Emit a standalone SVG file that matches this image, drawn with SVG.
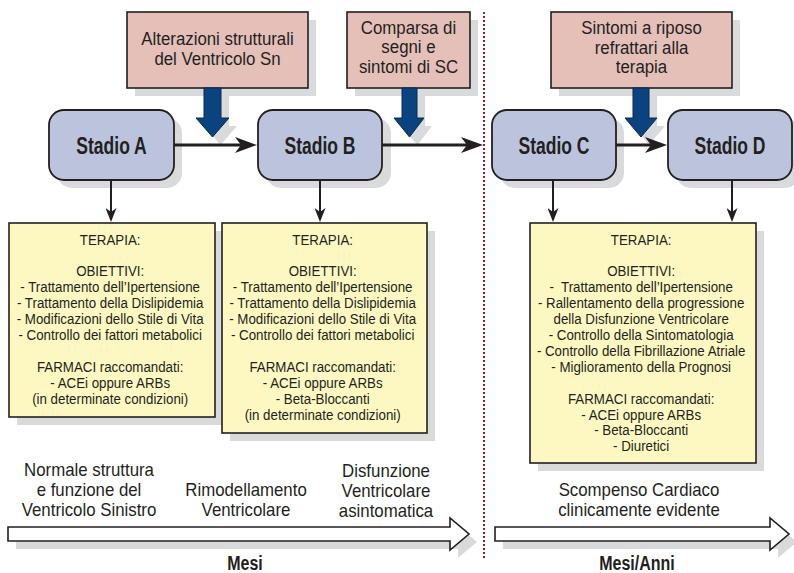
<svg xmlns="http://www.w3.org/2000/svg" width="794" height="573" viewBox="0 0 794 573">
<defs>
<style>
.sh{fill:#d9dadc;stroke:none}
.pink{fill:#e4c0b9;stroke:#231f20;stroke-width:1.6}
.stage{fill:#bcc4dd;stroke:#231f20;stroke-width:1.8}
.yel{fill:#fdf8c2;stroke:#231f20;stroke-width:1.6}
.blue{fill:#0b4280;stroke:#0a2a50;stroke-width:1}
.wa{fill:#ffffff;stroke:#231f20;stroke-width:1.6}
text{font-family:"Liberation Sans",Arial,sans-serif;fill:#231f20;text-anchor:middle}
.pt{font-size:18.5px}
.st{font-size:24px;font-weight:bold}
.bt{font-size:14.8px;white-space:pre}
.lt{font-size:18px}
.mt{font-size:20px;font-weight:bold}
.conn{stroke:#231f20;fill:none}
</style>
<marker id="ah" markerUnits="userSpaceOnUse" markerWidth="22" markerHeight="16" refX="6" refY="8" orient="auto">
<path d="M0,0 L22,8 L0,16 L6,8 z" fill="#231f20"/>
</marker>
<marker id="av" markerUnits="userSpaceOnUse" markerWidth="14" markerHeight="11" refX="4" refY="5.5" orient="auto">
<path d="M0,0 L14,5.5 L0,11 L4,5.5 z" fill="#231f20"/>
</marker>
</defs>
<rect width="794" height="573" fill="#ffffff"/>

<!-- divider -->
<line x1="484" y1="12" x2="484" y2="558" stroke="#9b1b30" stroke-width="2" stroke-dasharray="2,2"/>

<!-- event boxes -->
<g id="evento1">
<rect class="sh" x="135" y="20" width="181" height="76"/>
<rect class="pink" x="127" y="12" width="181" height="76"/>
<text class="pt" transform="translate(217.5,0) scale(0.91,1)"><tspan x="0" y="45">Alterazioni strutturali</tspan><tspan x="0" y="65">del Ventricolo Sn</tspan></text>
<polygon class="sh" points="212,96 229,96 229,126 237,126 220.5,145 204,126 212,126"/>
<polygon class="blue" points="204,88 221,88 221,118 229,118 212.5,137 196,118 204,118"/>
</g>
<g id="evento2">
<rect class="sh" x="355" y="20" width="123" height="76"/>
<rect class="pink" x="347" y="12" width="123" height="76"/>
<text class="pt" transform="translate(408.5,0) scale(0.91,1)"><tspan x="0" y="34">Comparsa di</tspan><tspan x="0" y="53.5">segni e</tspan><tspan x="0" y="73">sintomi di SC</tspan></text>
<polygon class="sh" points="410,96 425,96 425,126 432,126 417.5,145 401,126 410,126"/>
<polygon class="blue" points="402,88 417,88 417,118 424,118 409.5,137 394,118 402,118"/>
</g>
<g id="evento3">
<rect class="sh" x="559" y="20" width="181" height="76"/>
<rect class="pink" x="551" y="12" width="181" height="76"/>
<text class="pt" transform="translate(641.5,0) scale(0.91,1)"><tspan x="0" y="34.5">Sintomi a riposo</tspan><tspan x="0" y="54">refrattari alla</tspan><tspan x="0" y="73.5">terapia</tspan></text>
<polygon class="sh" points="641,96 657,96 657,126 665,126 649,145 633,126 641,126"/>
<polygon class="blue" points="633,88 649,88 649,118 657,118 641,137 625,118 633,118"/>
</g>

<!-- stages -->
<g id="stadioA">
<rect class="sh" x="57" y="118" width="125" height="70" rx="15"/>
<rect class="stage" x="49" y="110" width="125" height="70" rx="15"/>
<text class="st" transform="translate(111.5,154) scale(0.73,1)" x="0" y="0">Stadio A</text>
</g>
<g id="stadioB">
<rect class="sh" x="266" y="118" width="125" height="70" rx="15"/>
<rect class="stage" x="258" y="110" width="124" height="70" rx="15"/>
<text class="st" transform="translate(320,154) scale(0.73,1)" x="0" y="0">Stadio B</text>
</g>
<g id="stadioC">
<rect class="sh" x="500" y="118" width="124" height="70" rx="15"/>
<rect class="stage" x="492" y="110" width="124" height="70" rx="15"/>
<text class="st" transform="translate(554,154) scale(0.73,1)" x="0" y="0">Stadio C</text>
</g>
<g id="stadioD">
<rect class="sh" x="676" y="118" width="124" height="70" rx="15"/>
<rect class="stage" x="668" y="110" width="124" height="70" rx="15"/>
<text class="st" transform="translate(730,154) scale(0.73,1)" x="0" y="0">Stadio D</text>
</g>

<!-- therapy boxes -->
<g id="terapiaA">
<rect class="sh" x="17" y="231" width="206" height="194"/>
<rect class="yel" x="9" y="223" width="206" height="194"/>
<text class="bt" transform="translate(112,0) scale(0.9,1)">
<tspan x="0" y="245">TERAPIA:</tspan>
<tspan x="0" y="276">OBIETTIVI:</tspan>
<tspan x="0" y="292">- Trattamento dell’Ipertensione</tspan>
<tspan x="0" y="308">- Trattamento della Dislipidemia</tspan>
<tspan x="0" y="324">- Modificazioni dello Stile di Vita</tspan>
<tspan x="0" y="340">- Controllo dei fattori metabolici</tspan>
<tspan x="0" y="372.5">FARMACI raccomandati:</tspan>
<tspan x="0" y="388">- ACEi oppure ARBs</tspan>
<tspan x="0" y="404">(in determinate condizioni)</tspan>
</text>
</g>
<g id="terapiaB">
<rect class="sh" x="230" y="231" width="205" height="210"/>
<rect class="yel" x="222" y="223" width="205" height="210"/>
<text class="bt" transform="translate(324.5,0) scale(0.9,1)">
<tspan x="0" y="245">TERAPIA:</tspan>
<tspan x="0" y="276">OBIETTIVI:</tspan>
<tspan x="0" y="292">- Trattamento dell’Ipertensione</tspan>
<tspan x="0" y="308">- Trattamento della Dislipidemia</tspan>
<tspan x="0" y="324">- Modificazioni dello Stile di Vita</tspan>
<tspan x="0" y="340">- Controllo dei fattori metabolici</tspan>
<tspan x="0" y="372.5">FARMACI raccomandati:</tspan>
<tspan x="0" y="388">- ACEi oppure ARBs</tspan>
<tspan x="0" y="404">- Beta-Bloccanti</tspan>
<tspan x="0" y="420">(in determinate condizioni)</tspan>
</text>
</g>
<g id="terapiaCD">
<rect class="sh" x="538" y="231" width="226" height="240"/>
<rect class="yel" x="530" y="223" width="226" height="240"/>
<text class="bt" transform="translate(643,0) scale(0.9,1)">
<tspan x="0" y="245">TERAPIA:</tspan>
<tspan x="0" y="276">OBIETTIVI:</tspan>
<tspan x="0" y="292">-  Trattamento dell’Ipertensione</tspan>
<tspan x="0" y="308">- Rallentamento della progressione</tspan>
<tspan x="0" y="324">della Disfunzione Ventricolare</tspan>
<tspan x="0" y="340">- Controllo della Sintomatologia</tspan>
<tspan x="0" y="356">- Controllo della Fibrillazione Atriale</tspan>
<tspan x="0" y="372">- Miglioramento della Prognosi</tspan>
<tspan x="0" y="404">FARMACI raccomandati:</tspan>
<tspan x="0" y="420">- ACEi oppure ARBs</tspan>
<tspan x="0" y="435.5">- Beta-Bloccanti</tspan>
<tspan x="0" y="451.5">- Diuretici</tspan>
</text>
</g>

<!-- connectors -->
<g id="connettori" class="conn">
<line x1="174" y1="145" x2="241" y2="145" stroke-width="3" marker-end="url(#ah)"/>
<line x1="382" y1="145" x2="467" y2="145" stroke-width="3" marker-end="url(#ah)"/>
<line x1="616" y1="145" x2="651" y2="145" stroke-width="3" marker-end="url(#ah)"/>
<line x1="111" y1="180" x2="111" y2="212" stroke-width="2" marker-end="url(#av)"/>
<line x1="320" y1="180" x2="320" y2="212" stroke-width="2" marker-end="url(#av)"/>
<line x1="553" y1="180" x2="553" y2="212" stroke-width="2" marker-end="url(#av)"/>
<line x1="732" y1="180" x2="732" y2="212" stroke-width="2" marker-end="url(#av)"/>
</g>

<!-- timeline -->
<g id="timeline1">
<polygon class="sh" points="16,535 458,535 458,526 477,542 458,558 458,549 16,549"/>
<polygon class="wa" points="8,527 450,527 450,518 469,534 450,550 450,541 8,541"/>
<text class="lt" transform="translate(89,0) scale(0.935,1)"><tspan x="0" y="476">Normale struttura</tspan><tspan x="0" y="496">e funzione del</tspan><tspan x="0" y="516">Ventricolo Sinistro</tspan></text>
<text class="lt" transform="translate(246,0) scale(0.935,1)"><tspan x="0" y="496">Rimodellamento</tspan><tspan x="0" y="516">Ventricolare</tspan></text>
<text class="lt" transform="translate(386,0) scale(0.935,1)"><tspan x="0" y="477">Disfunzione</tspan><tspan x="0" y="497">Ventricolare</tspan><tspan x="0" y="517">asintomatica</tspan></text>
<text class="mt" transform="translate(245,570) scale(0.8,1)" x="0" y="0">Mesi</text>
</g>
<g id="timeline2">
<polygon class="sh" points="503,535 778,535 778,526 797,542 778,558 778,549 503,549"/>
<polygon class="wa" points="495,527 770,527 770,518 789,534 770,550 770,541 495,541"/>
<text class="lt" transform="translate(639,0) scale(0.935,1)"><tspan x="0" y="496">Scompenso Cardiaco</tspan><tspan x="0" y="516">clinicamente evidente</tspan></text>
<text class="mt" transform="translate(637,570) scale(0.8,1)" x="0" y="0">Mesi/Anni</text>
</g>
</svg>
